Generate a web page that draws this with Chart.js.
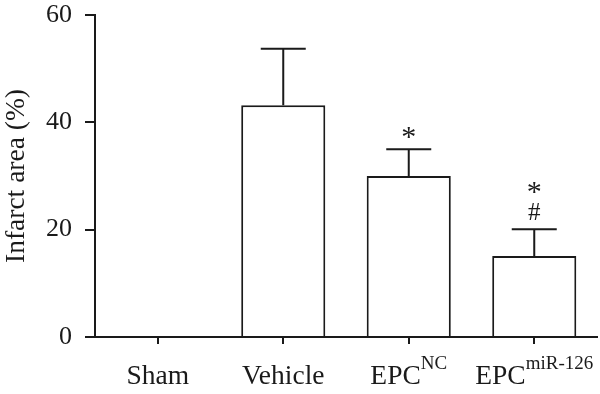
<!DOCTYPE html>
<html>
<head>
<meta charset="utf-8">
<script src="https://cdn.jsdelivr.net/npm/chart.js@4"></script>
<style>
  html, body { margin: 0; padding: 0; background: #fff; }
</style>
</head>
<body>
<canvas id="chart" width="600" height="394"></canvas>
<script>
const groups = ['Sham', 'Vehicle', 'EPC', 'EPC'];
const groupSup = ['', '', 'NC', 'miR-126'];
const infarct = [0, 43.2, 30, 15.1];
const errUp = [0, 10.5, 5, 5];
const marks = [[], [], ['*'], ['#', '*']];
const yTicks = [0, 20, 40, 60];

const ink = '#1a1a1a';
const serif = '"Liberation Serif", "DejaVu Serif", serif';

// draws the upper error bar with a cap
const errorBars = {
  id: 'errorBars',
  afterDatasetsDraw(chart) {
    const ctx = chart.ctx;
    const meta = chart.getDatasetMeta(0);
    const y = chart.scales.y;
    ctx.save();
    ctx.strokeStyle = ink;
    ctx.lineWidth = 2;
    meta.data.forEach((bar, i) => {
      if (!errUp[i]) return;
      const top = y.getPixelForValue(infarct[i] + errUp[i]);
      ctx.beginPath();
      ctx.moveTo(bar.x, bar.y);
      ctx.lineTo(bar.x, top);
      ctx.moveTo(bar.x - 22.5, top);
      ctx.lineTo(bar.x + 22.5, top);
      ctx.stroke();
      // significance marks stacked upward
      ctx.fillStyle = ink;
      ctx.textAlign = 'center';
      ctx.textBaseline = 'alphabetic';
      let cur = top;
      marks[i].forEach(m => {
        if (m === '*') {
          ctx.font = '30px ' + serif;
          ctx.fillText(m, bar.x, cur - 3);
          cur -= 23;
        } else {
          ctx.font = '25px ' + serif;
          ctx.fillText(m, bar.x, cur - 9);
          cur -= 25;
        }
      });
    });
    ctx.restore();
  }
};

// category labels with superscripts
const xLabels = {
  id: 'xLabels',
  afterDraw(chart) {
    const ctx = chart.ctx;
    const x = chart.scales.x;
    ctx.save();
    ctx.fillStyle = ink;
    ctx.textBaseline = 'alphabetic';
    ctx.textAlign = 'left';
    groups.forEach((g, i) => {
      const cx = x.getPixelForValue(i);
      ctx.font = '27.5px ' + serif;
      const w1 = ctx.measureText(g).width;
      ctx.font = '19px ' + serif;
      const w2 = groupSup[i] ? ctx.measureText(groupSup[i]).width : 0;
      const start = cx - (w1 + w2) / 2;
      ctx.font = '27.5px ' + serif;
      ctx.fillText(g, start, 384);
      if (groupSup[i]) {
        ctx.font = '19px ' + serif;
        ctx.fillText(groupSup[i], start + w1, 369);
      }
    });
    ctx.restore();
  }
};

new Chart(document.getElementById('chart'), {
  type: 'bar',
  data: {
    labels: groups.map((g, i) => g + groupSup[i]),
    datasets: [{
      data: infarct,
      backgroundColor: '#ffffff',
      borderColor: ink,
      borderWidth: 2,
      barPercentage: 0.67,
      categoryPercentage: 1
    }]
  },
  options: {
    responsive: false,
    animation: false,
    devicePixelRatio: 1,
    layout: { padding: { top: 15, right: 3, left: 0, bottom: 0 } },
    plugins: { legend: { display: false }, tooltip: { enabled: false } },
    scales: {
      x: {
        grid: { display: true, drawOnChartArea: false, drawTicks: true, tickLength: 7, offset: false, color: ink, lineWidth: 2 },
        border: { display: true, color: ink, width: 2 },
        ticks: { display: false },
        afterFit(s) { s.height = 57; }
      },
      y: {
        min: 0,
        max: 60,
        afterBuildTicks(s) { s.ticks = yTicks.map(v => ({ value: v })); },
        grid: { display: true, drawOnChartArea: false, drawTicks: true, tickLength: 10, color: ink, lineWidth: 2 },
        border: { display: true, color: ink, width: 2 },
        ticks: { color: ink, font: { family: serif, size: 26 }, padding: 13 },
        title: { display: true, text: 'Infarct area (%)', color: ink, font: { family: serif, size: 27.5 }, padding: { top: 0, bottom: 4 } },
        afterFit(s) { s.width = 95; s.paddingTop = 0; s.paddingBottom = 0; }
      }
    }
  },
  plugins: [errorBars, xLabels]
});
</script>
</body>
</html>
